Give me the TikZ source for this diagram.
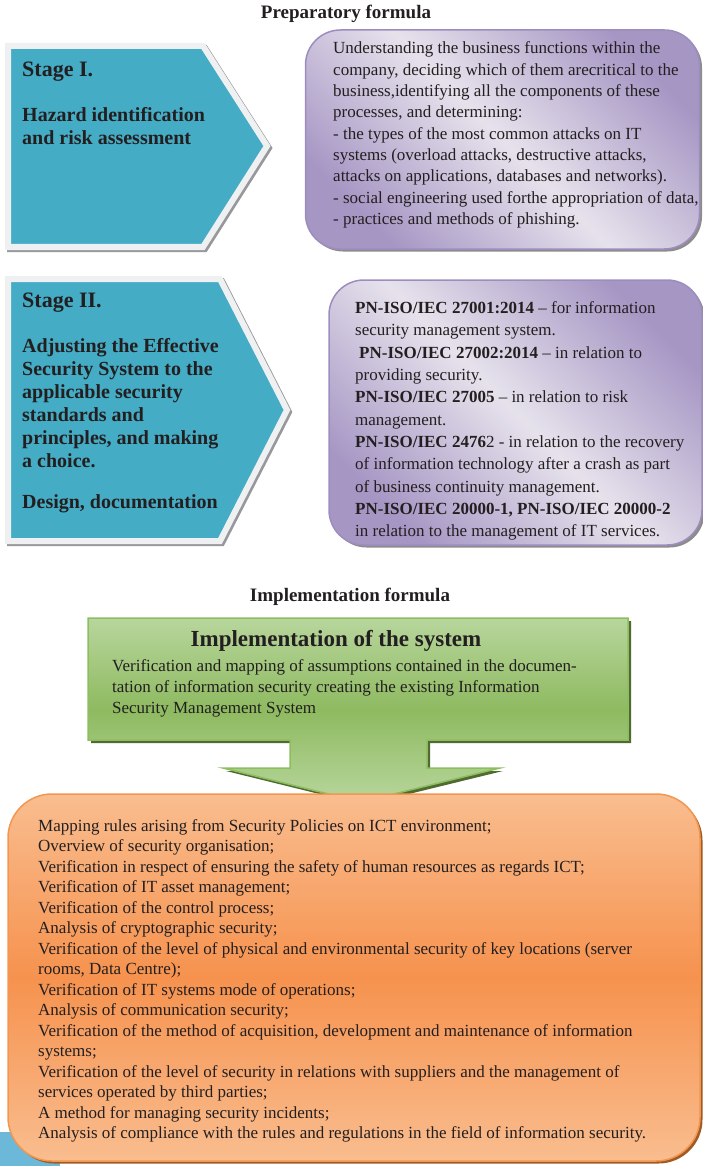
\documentclass[tikz,border=0pt]{standalone}
\usepackage{fontspec}
\setmainfont{Liberation Serif}
\usepackage{tikz}
\usetikzlibrary{positioning, shadows}
\definecolor{stageteal}{RGB}{68,172,197}
\definecolor{stageframe}{RGB}{238,240,242}
\definecolor{stageshade}{RGB}{150,152,156}
\definecolor{lavlight}{RGB}{230,226,236}
\definecolor{lavdark}{RGB}{166,150,196}
\definecolor{lavborder}{RGB}{157,141,190}
\definecolor{greenlight}{RGB}{184,214,157}
\definecolor{greendark}{RGB}{142,186,96}
\definecolor{greenborder}{RGB}{140,190,95}
\definecolor{greenshade}{RGB}{80,106,48}
\definecolor{orangelight}{RGB}{249,189,143}
\definecolor{orangedark}{RGB}{246,146,78}
\definecolor{orangeborder}{RGB}{242,150,80}
\definecolor{orangeshade}{RGB}{160,90,35}
\definecolor{cornerblue}{RGB}{107,184,217}
\definecolor{inkgray}{RGB}{35,31,32}
\tikzset{
  formulatitle/.style = {font=\fontsize{19}{22}\selectfont\bfseries, text=inkgray, inner sep=0pt},
  stageshape/.style = {fill=stageteal, draw=stageframe, line width=6pt,
                       drop shadow={shadow xshift=2pt, shadow yshift=-2pt, fill=stageshade,
                                    draw=stageshade, line width=6pt, opacity=1}},
  stagetext/.style = {anchor=north west, align=left, inner sep=0pt, text=inkgray,
                      font=\fontsize{20}{23}\selectfont\bfseries},
  notebox/.style = {rectangle, rounded corners=35pt, draw=lavborder, line width=1.5pt,
                    top color=lavdark, bottom color=lavdark, middle color=lavlight,
                    shading angle=-45,
                    drop shadow={shadow xshift=2.5pt, shadow yshift=-2.5pt, fill=black!45, opacity=1}},
  notetext/.style = {anchor=west, align=left, inner sep=0pt, text=inkgray,
                     font=\fontsize{17}{22.3}\selectfont},
  implshape/.style = {draw=greenborder, line width=1.5pt,
                      top color=greenlight, bottom color=greenlight, middle color=greendark,
                      drop shadow={shadow xshift=3pt, shadow yshift=-3pt, fill=greenshade, opacity=1}},
  listbox/.style = {rectangle, rounded corners=44pt, draw=orangeborder, line width=1.5pt,
                    top color=orangelight, bottom color=orangelight, middle color=orangedark,
                    drop shadow={shadow xshift=2.5pt, shadow yshift=-2.5pt, fill=orangeshade, opacity=1}},
  listtext/.style = {anchor=west, align=left, inner sep=0pt, text=inkgray,
                     font=\fontsize{17}{20.5}\selectfont}
}
\begin{document}
\begin{tikzpicture}[x=1pt, y=-1pt]
\useasboundingbox (0,0) rectangle (703,1166);

% preparatory formula
\node[formulatitle] (preptitle) at (346,14) {Preparatory formula};

\path[stageshape] (8,46) -- (203,46) -- (267,146) -- (203,247) -- (8,247) -- cycle;
\node[stagetext] (stageone) at (22,62) {{\fontsize{22}{26}\selectfont Stage I.}\\[22pt]
  Hazard identification\\
  and risk assessment};

\node[notebox, minimum width=394pt, minimum height=219pt] (stageonenote) at (502.5,139.5) {};
\node[notetext, font=\fontsize{17}{21.3}\selectfont] (stageonetext) at (333,135)
  {Understanding the business functions within the\\
  company, deciding which of them arecritical to the\\
  business,identifying all the components of these\\
  processes, and determining:\\
  - the types of the most common attacks on IT\\
  systems (overload attacks, destructive attacks,\\
  attacks on applications, databases and networks).\\
  - social engineering used forthe appropriation of data,\\
  - practices and methods of phishing.};

\path[stageshape] (8,279) -- (220,279) -- (287,410) -- (220,541) -- (8,541) -- cycle;
\node[stagetext] (stagetwo) at (22,293) {{\fontsize{22}{26}\selectfont Stage II.}\\[22pt]
  Adjusting the Effective\\
  Security System to the\\
  applicable security\\
  standards and\\
  principles, and making\\
  a choice.\\[18pt]
  Design, documentation};

\node[notebox, minimum width=373pt, minimum height=265pt] (stagetwonote) at (515.5,412.5) {};
\node[notetext] (stagetwotext) at (355,421) {\textbf{PN-ISO/IEC 27001:2014} -- for information\\
  security management system.\\
  \hspace{4pt}\textbf{PN-ISO/IEC 27002:2014} -- in relation to\\
  providing security.\\
  \textbf{PN-ISO/IEC 27005} -- in relation to risk\\
  management.\\
  \textbf{PN-ISO/IEC 2476}2 - in relation to the recovery\\
  of information technology after a crash as part\\
  of business continuity management.\\
  \textbf{PN-ISO/IEC 20000-1, PN-ISO/IEC 20000-2}\\
  in relation to the management of IT services.};

% implementation formula
\node[formulatitle] (impltitle) at (350,597) {Implementation formula};

\fill[cornerblue] (0,1132) rectangle (60,1166);

\path[implshape] (88,618) -- (628,618) -- (628,740) -- (427,740) -- (427,768) -- (500,768)
  -- (361,802) -- (223,768) -- (290,768) -- (290,740) -- (88,740) -- cycle;
\node[font=\fontsize{23}{26}\selectfont\bfseries, text=inkgray, inner sep=0pt] (systemtitle) at (336,641)
  {Implementation of the system};
\node[listtext, font=\fontsize{17}{21}\selectfont] (systemtext) at (112,688)
  {Verification and mapping of assumptions contained in the documen-\\
  tation of information security creating the existing Information\\
  Security Management System};

\node[listbox, minimum width=692pt, minimum height=367pt] (checklist) at (354,977.5) {};
\node[listtext] (checktext) at (38,981) {Mapping rules arising from Security Policies on ICT environment;\\
  Overview of security organisation;\\
  Verification in respect of ensuring the safety of human resources as regards ICT;\\
  Verification of IT asset management;\\
  Verification of the control process;\\
  Analysis of cryptographic security;\\
  Verification of the level of physical and environmental security of key locations (server\\
  rooms, Data Centre);\\
  Verification of IT systems mode of operations;\\
  Analysis of communication security;\\
  Verification of the method of acquisition, development and maintenance of information\\
  systems;\\
  Verification of the level of security in relations with suppliers and the management of\\
  services operated by third parties;\\
  A method for managing security incidents;\\
  Analysis of compliance with the rules and regulations in the field of information security.};
\end{tikzpicture}
\end{document}
